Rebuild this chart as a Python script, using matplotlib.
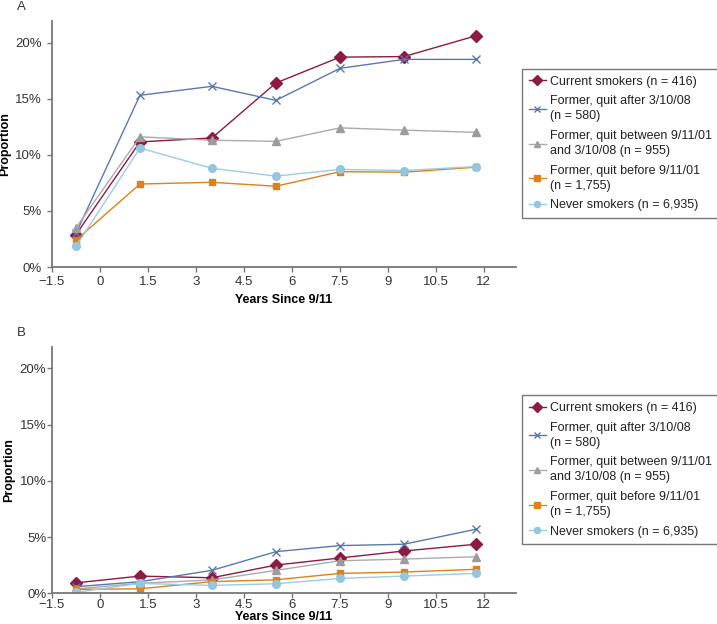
import matplotlib
matplotlib.use('Agg')
import matplotlib.pyplot as plt
import numpy as np

plt.rcParams['font.family'] = ['Liberation Sans', 'DejaVu Sans']

# survey waves, years since 9/11
years = [-0.75, 1.25, 3.5, 5.5, 7.5, 9.5, 11.75]

labels = ['Current smokers (n = 416)',
          'Former, quit after 3/10/08\n(n = 580)',
          'Former, quit between 9/11/01\nand 3/10/08 (n = 955)',
          'Former, quit before 9/11/01\n(n = 1,755)',
          'Never smokers (n = 6,935)']

# panel A, percent
a_current = [2.9, 11.15, 11.5, 16.4, 18.7, 18.75, 20.6]
a_after = [3.0, 15.3, 16.1, 14.85, 17.7, 18.5, 18.5]
a_between = [3.5, 11.6, 11.3, 11.2, 12.4, 12.2, 12.0]
a_before = [2.4, 7.4, 7.55, 7.2, 8.5, 8.45, 8.9]
a_never = [1.85, 10.6, 8.8, 8.1, 8.7, 8.6, 8.95]

# panel B, percent
b_current = [0.94, 1.54, 1.39, 2.52, 3.15, 3.77, 4.37]
b_after = [0.6, 1.04, 2.05, 3.71, 4.25, 4.37, 5.7]
b_between = [0.4, 0.9, 1.2, 2.05, 2.9, 3.05, 3.26]
b_before = [0.36, 0.41, 1.05, 1.21, 1.78, 1.9, 2.14]
b_never = [0.1, 0.89, 0.71, 0.86, 1.33, 1.54, 1.78]

xticks = [-1.5, 0, 1.5, 3, 4.5, 6, 7.5, 9, 10.5, 12]
yticks = [0, 5, 10, 15, 20]

styles = [dict(color='#8C1A42', marker='D', ms=6, mfc='#8C1A42', mec='#8C1A42'),
          dict(color='#5A78AC', marker='x', ms=6, mew=1.0),
          dict(color='#ABABAB', marker='^', ms=5.5, mfc='#9C9C9C', mec='#9C9C9C'),
          dict(color='#D9821E', marker='s', ms=5, mfc='#D9821E', mec='#D9821E'),
          dict(color='#9CCBE3', marker='o', ms=5.5, mfc='#94C6E0', mec='#94C6E0')]

fig = plt.figure(figsize=(7.17, 6.24), dpi=100)
axA = fig.add_axes([0.0725, 0.572, 0.647, 0.394])
axB = fig.add_axes([0.0725, 0.049, 0.647, 0.395])

panels = [(axA, [a_current, a_after, a_between, a_before, a_never], 'A', 0.77, 4, 0.988, 3, 4, -0.088),
          (axB, [b_current, b_after, b_between, b_before, b_never], 'B', 0.247, 0.5, 0.466, 0.5, 0, -0.080)]

for ax, series, tag, ly, ypad, tagy, xpad, xlpad, ylx in panels:
    for vals, st, lab in zip(series, styles, labels):
        ax.plot(years, vals, lw=1.0, label=lab, **st)
    ax.set_xlim(-1.5, 13)
    ax.set_ylim(0, 21.9)
    ax.set_xticks(xticks)
    ax.set_xticklabels(['\u22121.5' if t == -1.5 else ('%g' % t) for t in xticks])
    ax.set_yticks(yticks)
    ax.set_yticklabels(['%d%%' % t for t in yticks])
    for s in ['top', 'right']:
        ax.spines[s].set_visible(False)
    for s in ['left', 'bottom']:
        ax.spines[s].set_color('#777777')
        ax.spines[s].set_linewidth(1.3)
    ax.tick_params(axis='both', colors='#777777', labelcolor='#333333',
                   labelsize=9.5, length=3.5, width=1)
    ax.tick_params(axis='y', pad=ypad)
    ax.tick_params(axis='x', pad=xpad)
    ax.set_ylabel('Proportion', fontsize=9, fontweight='bold')
    ax.yaxis.set_label_coords(ylx, 0.5)
    ax.set_xlabel('Years Since 9/11', fontsize=9, fontweight='bold', labelpad=xlpad)
    fig.text(0.024, tagy, tag, fontsize=9.5, color='#333333', va='center')
    leg = ax.legend(loc='center left', bbox_to_anchor=(0.728, ly),
                    bbox_transform=fig.transFigure, fontsize=9,
                    frameon=True, fancybox=False, handlelength=1.35,
                    handletextpad=0.35, borderpad=0.55, labelspacing=0.6,
                    borderaxespad=0, markerscale=0.8)
    leg.get_frame().set_edgecolor('#555555')
    leg.get_frame().set_linewidth(1.0)
    for t in leg.get_texts():
        t.set_color('#222222')
        t.set_linespacing(1.35)

fig.savefig('out.png', dpi=100)
